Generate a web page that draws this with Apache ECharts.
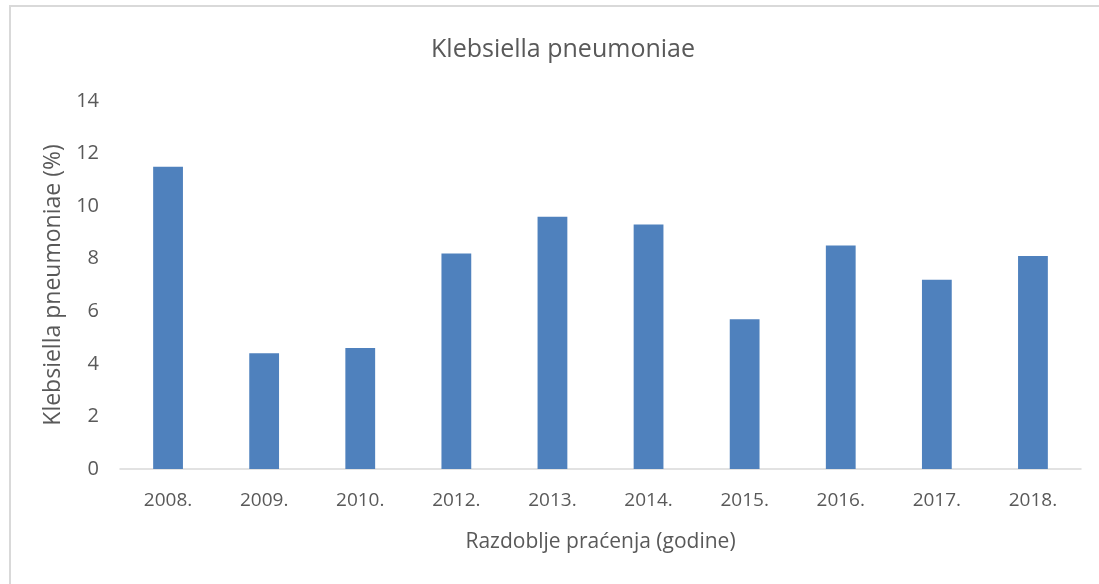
<!DOCTYPE html>
<html>
<head>
<meta charset="utf-8">
<script src="https://cdn.jsdelivr.net/npm/echarts@6/dist/echarts.min.js"></script>
<style>
  html, body { margin: 0; padding: 0; background: #fff; }
  #chart { width: 1099px; height: 584px; }
</style>
</head>
<body>
<div id="chart"></div>
<script>
'use strict'

// chart data
var years = ['2008.', '2009.', '2010.', '2012.', '2013.', '2014.', '2015.', '2016.', '2017.', '2018.'];
var percent = [11.5, 4.4, 4.6, 8.2, 9.6, 9.3, 5.7, 8.5, 7.2, 8.1];
var yTicks = [0, 2, 4, 6, 8, 10, 12, 14];

var dom = document.getElementById('chart');
var chart = echarts.init(dom);
var fontFam = '"Open Sans", "Noto Sans", sans-serif';

var option = {
    backgroundColor: '#ffffff',
    animation: false,
    title: {
        text: 'Klebsiella pneumoniae',
        left: 558,
        textAlign: 'center',
        top: 32,
        textStyle: {
            fontFamily: fontFam,
            fontSize: 25,
            fontWeight: 'normal',
            color: '#595959'
        }
    },
    graphic: [
        {
            type: 'rect',
            shape: { x: 10, y: 6, width: 1200, height: 700 },
            style: { fill: 'none', stroke: '#d9d9d9', lineWidth: 2 },
            silent: true
        }
    ],
    grid: {
        left: 120,
        right: 18,
        top: 101,
        bottom: 115
    },
    xAxis: {
        type: 'category',
        data: years,
        name: 'Razdoblje praćenja (godine)',
        nameLocation: 'middle',
        nameGap: 63,
        nameTextStyle: {
            fontFamily: fontFam,
            fontSize: 21,
            color: '#595959'
        },
        axisLine: { lineStyle: { color: '#d9d9d9', width: 1.5 } },
        axisTick: { show: false },
        axisLabel: {
            margin: 22,
            fontFamily: fontFam,
            fontSize: 19,
            color: '#595959'
        }
    },
    yAxis: {
        type: 'value',
        min: yTicks[0],
        max: yTicks[yTicks.length - 1],
        interval: 2,
        name: 'Klebsiella pneumoniae (%)',
        nameLocation: 'middle',
        nameGap: 52,
        nameTextStyle: {
            fontFamily: fontFam,
            fontSize: 23,
            color: '#595959'
        },
        splitLine: { show: false },
        axisLine: { show: false },
        axisTick: { show: false },
        axisLabel: {
            margin: 21,
            fontFamily: fontFam,
            fontSize: 20,
            color: '#595959'
        }
    },
    series: [
        {
            type: 'bar',
            data: percent,
            barWidth: '31%',
            itemStyle: { color: '#4f81bd' }
        }
    ]
};

chart.setOption(option);
</script>
</body>
</html>
